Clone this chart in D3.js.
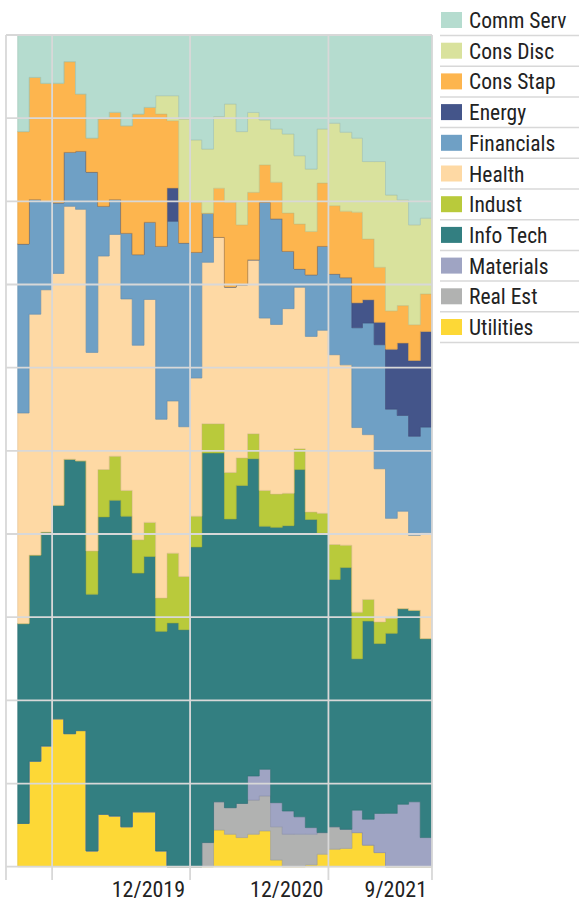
<!DOCTYPE html>
<meta charset="UTF-8">
<head>
  <script src="https://cdnjs.cloudflare.com/ajax/libs/d3/7.8.5/d3.min.js"></script>
</head>
<style>
  body { margin: 0; background: #fff; }
  text { font-family: "Roboto Condensed", "Liberation Sans Narrow", Roboto, sans-serif; fill: #222; }
</style>
<body>
<div id="chart"></div>
<script>
// sector weights (%) by month, 9/2018 .. 8/2021
var sectors = ["Comm Serv", "Cons Disc", "Cons Stap", "Energy", "Financials", "Health",
               "Indust", "Info Tech", "Materials", "Real Est", "Utilities"];

var commServ   = [11.6,5.1,5.8,5.8,3.2,7.1,12.4,10.1,9.3,10.9,9.5,8.7,7.3,7.3,10.1,12.6,13.7,9.8,8.3,11.6,9.3,10.2,11.3,11.9,14.5,16.1,11.3,10.6,11.7,12.4,15.2,15.2,19.2,19.8,22.8,22.0];
var consDisc   = [0,0,0,0,0,0,0,0,0,0,0,0,2.2,3.0,9.9,7.5,7.7,8.6,11.8,11.2,9.6,5.4,6.4,9.5,8.2,7.5,6.5,9.9,9.5,8.9,9.3,12.7,13.9,12.7,12.0,9.1];
var consStap   = [13.5,14.7,14.2,14.4,10.9,6.9,4.1,10.5,10.5,12.9,16.9,13.8,15.9,8.1,5.0,6.0,0,5.9,10.2,7.2,8.1,4.5,4.4,4.6,5.4,5.2,7.6,8.2,8.0,10.9,7.3,6.6,4.6,4.5,4.3,4.5];
var energy     = [0,0,0,0,0,0,0,0,0,0,0,0,0,4.0,0,0,0,0,0,0,0,0,0,0,0,0,0,0,0,3.0,2.8,2.7,7.2,8.7,9.1,11.5];
var financials = [20.3,13.8,10.6,8.5,6.5,7.0,21.7,6.0,4.2,7.9,10.9,9.3,20.8,21.6,22.1,15.1,5.9,0,0,0,0,13.9,12.7,6.9,2.2,7.4,10.1,9.7,10.5,12.0,13.4,14.9,13.1,11.5,11.9,12.7];
var health     = [25.3,29.0,29.1,27.9,30.4,30.3,23.9,25.7,26.7,23.0,23.4,26.8,21.5,18.3,18.0,16.6,19.4,22.4,22.3,20.8,20.9,20.7,20.4,22.2,19.4,21.1,22.0,22.8,21.7,22.2,19.8,18.4,12.0,11.7,9.0,12.7];
var indust     = [0,0,0,0,0,0,5.2,5.7,5.3,3.1,4.0,4.1,4.0,8.4,6.4,3.7,3.5,3.5,5.6,3.3,3.0,4.3,4.0,3.9,2.5,0.9,2.4,4.2,2.7,5.6,2.6,2.6,1.8,0,0,0];
var infoTech   = [24.0,24.8,25.7,25.7,33.0,32.5,30.9,35.8,38.0,37.3,28.7,30.7,26.4,29.3,28.5,38.4,46.8,41.9,34.7,38.2,38.1,29.2,33.1,34.3,41.7,37.0,36.0,29.7,31.5,18.2,23.8,20.4,21.6,23.5,23.0,23.9];
var materials  = [0,0,0,0,0,0,0,0,0,0,0,0,0,0,0,0,0,0,0,0,2.9,3.2,2.9,2.8,2.1,0.8,0,0,0,2.7,3.1,4.7,6.4,7.5,7.8,3.5];
var realEst    = [0,0,0,0,0,0,0,0,0,0,0,0,0,0,0,0,2.9,3.4,3.2,4.1,4.1,4.2,4.0,3.9,3.9,3.7,2.6,2.7,2.3,0,0,0,0,0,0,0];
var utilities  = [5.2,12.7,14.5,17.8,16.0,16.4,1.9,6.3,6.1,4.8,6.6,6.6,1.9,0,0,0,0,4.4,3.9,3.5,3.9,4.3,0.8,0,0,0.2,1.5,2.1,2.2,4.1,2.6,1.7,0,0,0,0];

var series = [commServ, consDisc, consStap, energy, financials, health, indust, infoTech, materials, realEst, utilities];
var colors = ["#b5dccf", "#d9e29d", "#fdb54e", "#44558a", "#6fa0c5", "#fed9a4",
              "#b9ca3b", "#337f81", "#9fa4c3", "#b1b2b1", "#fdd836"];

var tickDates  = ["2018-08", "2018-12", "2019-12", "2020-12", "2021-09"];
var tickLabels = ["", "", "12/2019", "12/2020", "9/2021"];

var width = 579, height = 901;
var parse = d3.timeParse("%Y-%m");

var months = d3.timeMonth.range(new Date(2018, 8, 1), new Date(2021, 8, 1));
var table = months.map(function(m, i) {
  var row = { date: m };
  sectors.forEach(function(s, k) { row[s] = series[k][i]; });
  return row;
});
// closing point so the last step has width
var last = Object.assign({}, table[table.length - 1]);
last.date = new Date(2021, 8, 1);
table.push(last);

var x = d3.scaleTime()
  .domain([new Date(2018, 7, 1), new Date(2021, 8, 1)])
  .range([6, 432]);
var y = d3.scaleLinear().domain([0, 1]).range([866.7, 35]);

var stack = d3.stack()
  .keys(sectors.slice().reverse())
  .offset(d3.stackOffsetExpand);
var layers = stack(table);

var color = d3.scaleOrdinal().domain(sectors).range(colors);

var svg = d3.select("#chart").append("svg")
  .attr("width", width)
  .attr("height", height);

var area = d3.area()
  .curve(d3.curveStepAfter)
  .x(function(d) { return x(d.data.date); })
  .y0(function(d) { return y(d[0]); })
  .y1(function(d) { return y(d[1]); });

svg.append("g").selectAll("path")
  .data(layers)
  .enter().append("path")
  .attr("d", area)
  .attr("fill", function(d) { return color(d.key); })
  .attr("stroke", function(d) { return d3.color(color(d.key)).darker(0.35); })
  .attr("stroke-width", 0.6);

// grid on top
var grid = svg.append("g").attr("stroke", "#d8d8d8").attr("stroke-width", 1.8);
grid.selectAll("line.h")
  .data(d3.range(0, 1.01, 0.1))
  .enter().append("line")
  .attr("x1", 6).attr("x2", 432)
  .attr("y1", function(d) { return y(d); })
  .attr("y2", function(d) { return y(d); });

grid.selectAll("line.v")
  .data(tickDates)
  .enter().append("line")
  .attr("x1", function(d) { return x(parse(d)); })
  .attr("x2", function(d) { return x(parse(d)); })
  .attr("y1", 35).attr("y2", 880);

svg.append("g").selectAll("text")
  .data(tickDates)
  .enter().append("text")
  .attr("x", function(d) { return x(parse(d)) - 5; })
  .attr("y", 897)
  .attr("text-anchor", "end")
  .attr("font-size", 22)
  .text(function(d, i) { return tickLabels[i]; });

// legend
var legend = svg.append("g").attr("transform", "translate(440,20)");
var item = legend.selectAll("g")
  .data(sectors)
  .enter().append("g")
  .attr("transform", function(d, i) { return "translate(0," + (i * 30.7) + ")"; });

item.append("rect")
  .attr("x", 1).attr("y", -8)
  .attr("width", 21).attr("height", 16)
  .attr("fill", function(d) { return color(d); });

item.append("text")
  .attr("x", 29).attr("y", 8)
  .attr("font-size", 21.5)
  .text(function(d) { return d; });

item.append("line")
  .attr("x1", 0).attr("x2", 139)
  .attr("y1", 15.5).attr("y2", 15.5)
  .attr("stroke", "#d8d8d8")
  .attr("stroke-width", 1.5);
</script>
</body>
